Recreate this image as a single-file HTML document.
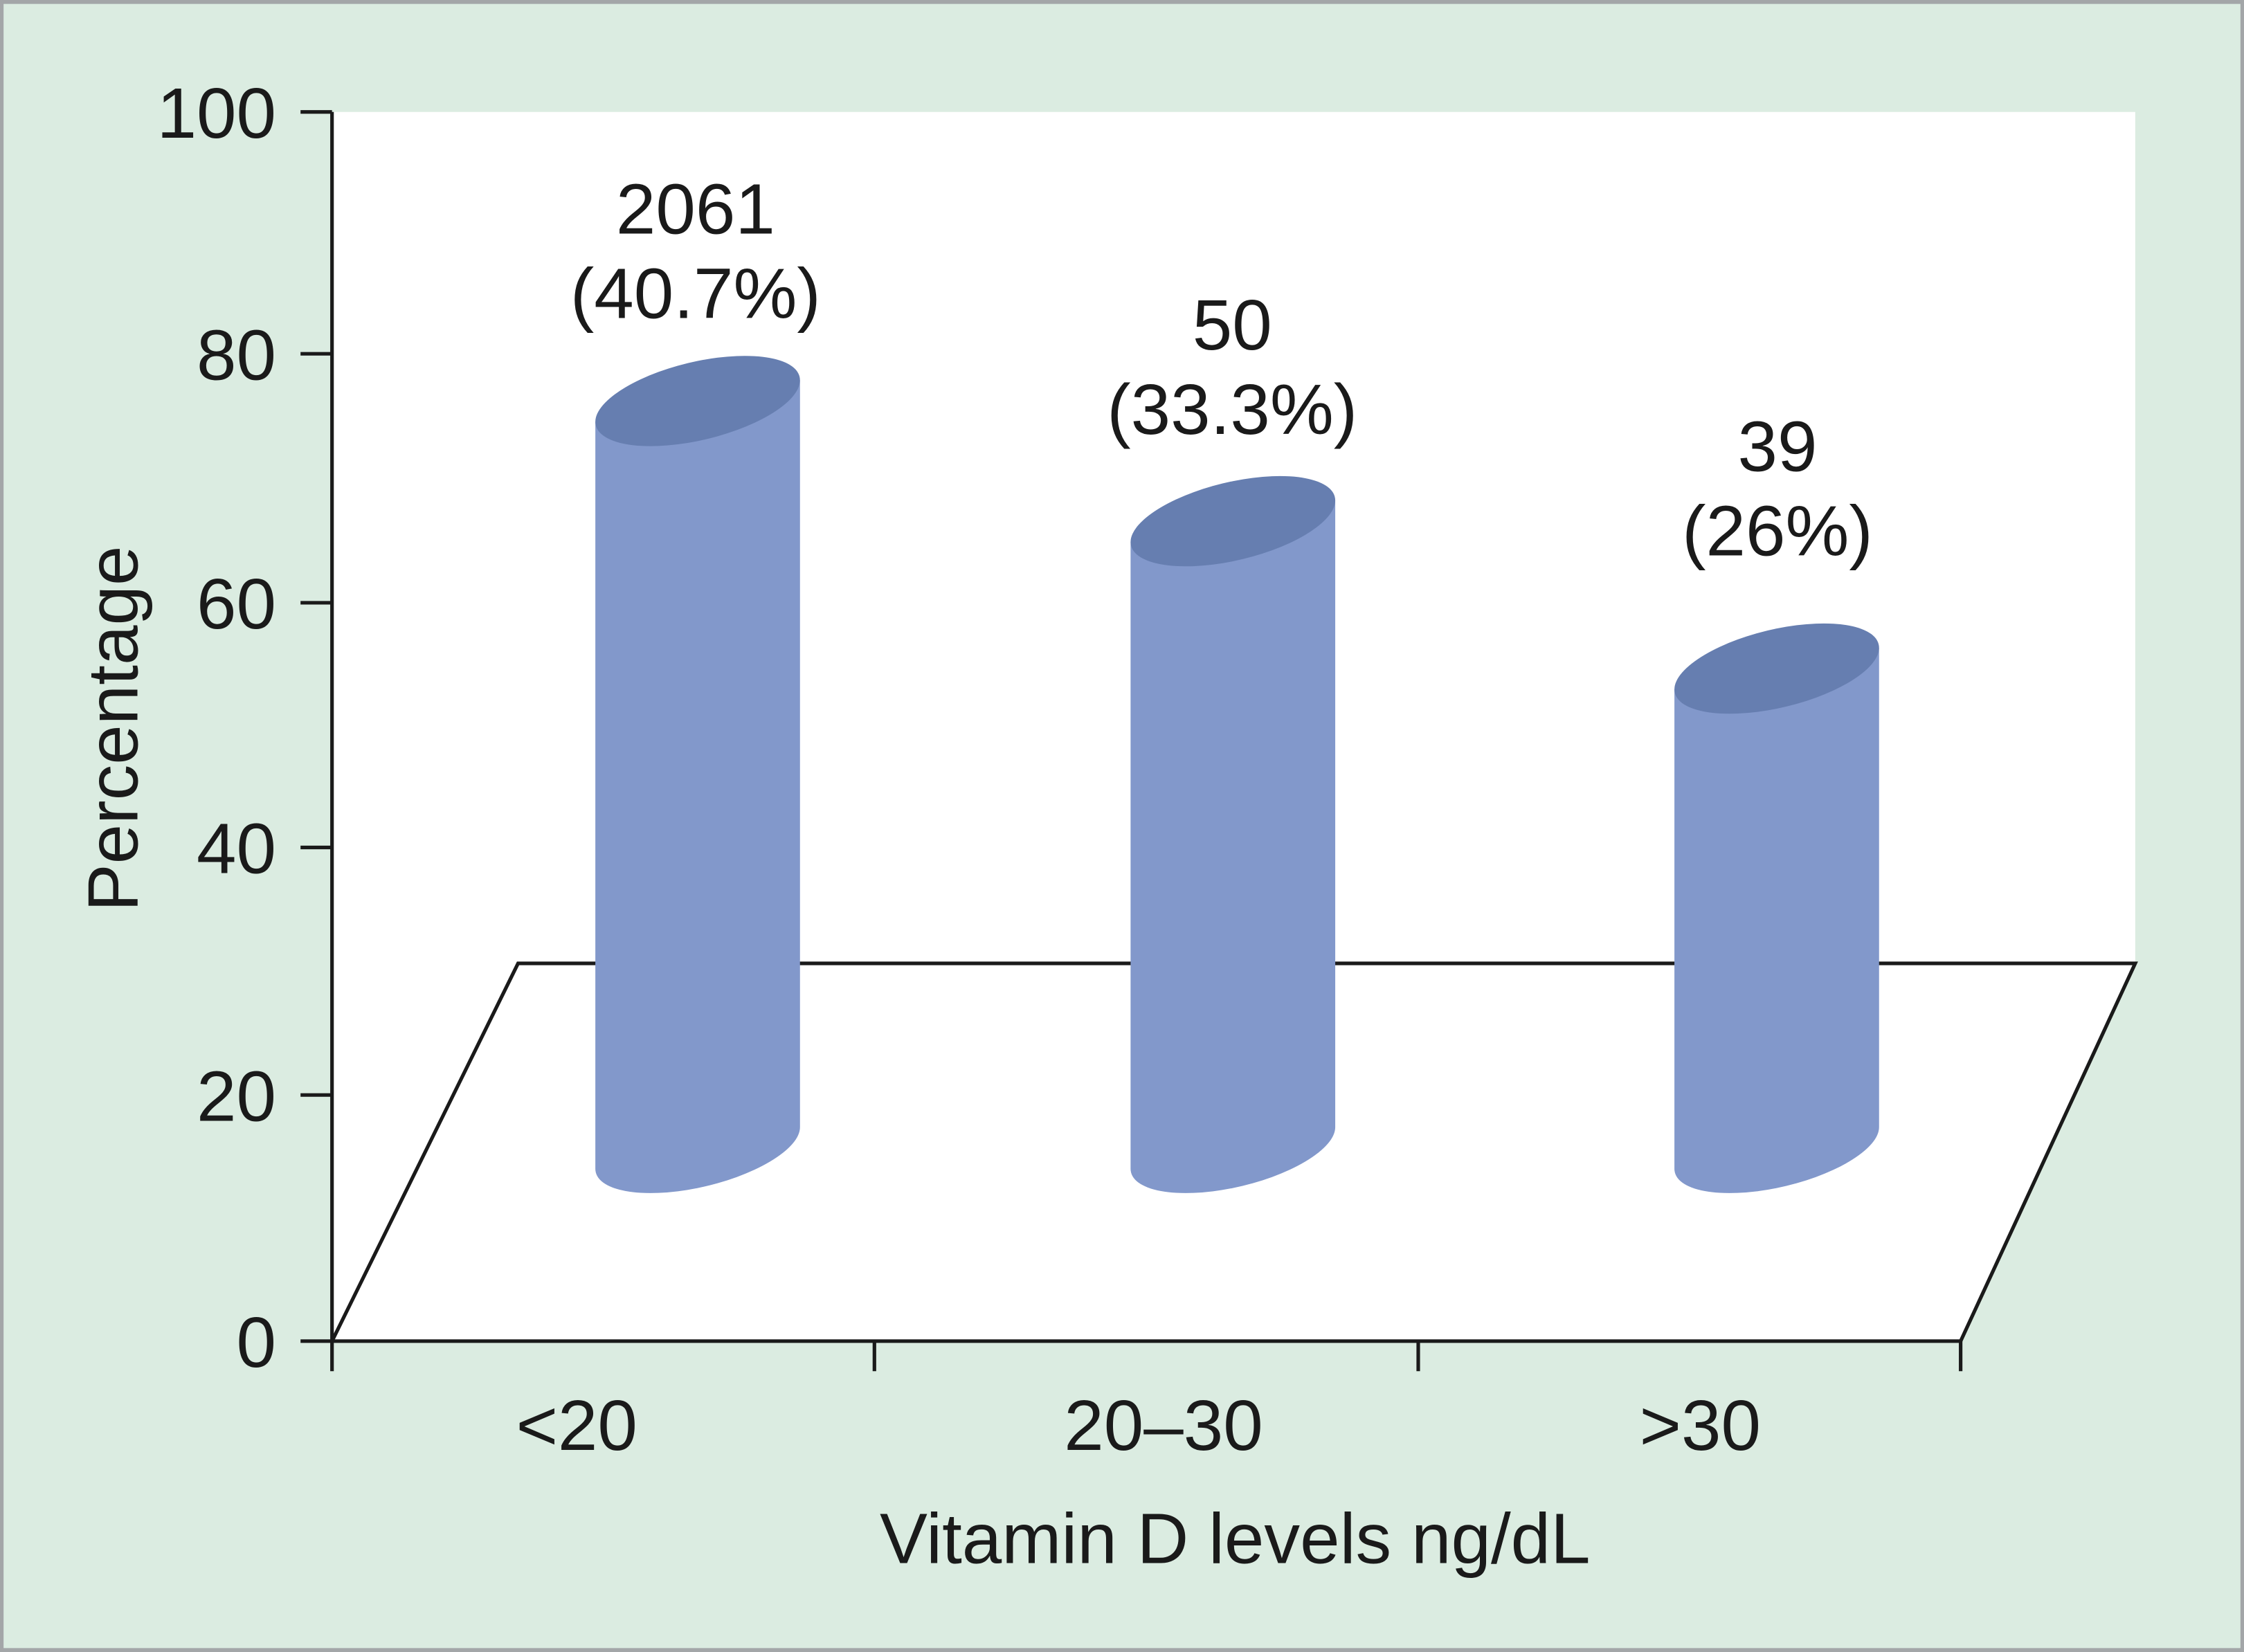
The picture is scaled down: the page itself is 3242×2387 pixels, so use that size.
<!DOCTYPE html>
<html><head><style>html,body{margin:0;padding:0;background:#dbece1}svg{display:block}</style></head>
<body>
<svg width="3242" height="2387" viewBox="0 0 1568 1154" xmlns="http://www.w3.org/2000/svg" font-family="'Liberation Sans', Arial, sans-serif">
<rect x="1" y="1" width="1566" height="1152" fill="#dbece1" stroke="#a3a6a8" stroke-width="3"/>
<polygon points="232,78 1492,78 1492,673 1370,937 232,937" fill="#ffffff"/>
<g fill="none" stroke="#1a1a1a" stroke-width="2.5">
<line x1="232" y1="78" x2="232" y2="958"/>
<line x1="210" y1="78" x2="232" y2="78"/>
<line x1="210" y1="247" x2="232" y2="247"/>
<line x1="210" y1="421" x2="232" y2="421"/>
<line x1="210" y1="592" x2="232" y2="592"/>
<line x1="210" y1="765" x2="232" y2="765"/>
<line x1="210" y1="937" x2="232" y2="937"/>
<line x1="232" y1="937" x2="1370" y2="937"/>
<line x1="611" y1="937" x2="611" y2="958"/>
<line x1="991" y1="937" x2="991" y2="958"/>
<line x1="1370" y1="937" x2="1370" y2="958"/>
<polyline points="232,937 362,673 1492,673 1370,937"/>
</g>
<g>
<g transform="translate(487.5 0) matrix(1 -0.203 0 1 0 0)">
<path d="M-71.5 280 L-71.5 802 A71.5 28 0 0 0 71.5 802 L71.5 280 Z" fill="#8298cb"/>
<ellipse cx="0" cy="280" rx="71.5" ry="28" fill="#667eb0"/>
</g>
<g transform="translate(861.5 0) matrix(1 -0.203 0 1 0 0)">
<path d="M-71.5 364 L-71.5 802 A71.5 28 0 0 0 71.5 802 L71.5 364 Z" fill="#8298cb"/>
<ellipse cx="0" cy="364" rx="71.5" ry="28" fill="#667eb0"/>
</g>
<g transform="translate(1241.5 0) matrix(1 -0.203 0 1 0 0)">
<path d="M-71.5 467 L-71.5 802 A71.5 28 0 0 0 71.5 802 L71.5 467 Z" fill="#8298cb"/>
<ellipse cx="0" cy="467" rx="71.5" ry="28" fill="#667eb0"/>
</g>
</g>
<g font-size="50" fill="#1a1a1a" text-anchor="end">
<text x="193" y="96">100</text>
<text x="193" y="265">80</text>
<text x="193" y="439">60</text>
<text x="193" y="610">40</text>
<text x="193" y="783">20</text>
<text x="193" y="955">0</text>
</g>
<g font-size="50" fill="#1a1a1a" text-anchor="middle">
<text x="486" y="163">2061</text>
<text x="486" y="222">(40.7%)</text>
<text x="861" y="244">50</text>
<text x="861" y="303">(33.3%)</text>
<text x="1242" y="329">39</text>
<text x="1242" y="388">(26%)</text>
<text x="403" y="1013">&lt;20</text>
<text x="813" y="1013">20–30</text>
<text x="1188" y="1013">&gt;30</text>
<text x="863" y="1092">Vitamin D levels ng/dL</text>
<text x="0" y="0" transform="translate(96 509) rotate(-90)">Percentage</text>
</g>
</svg>
</body></html>
